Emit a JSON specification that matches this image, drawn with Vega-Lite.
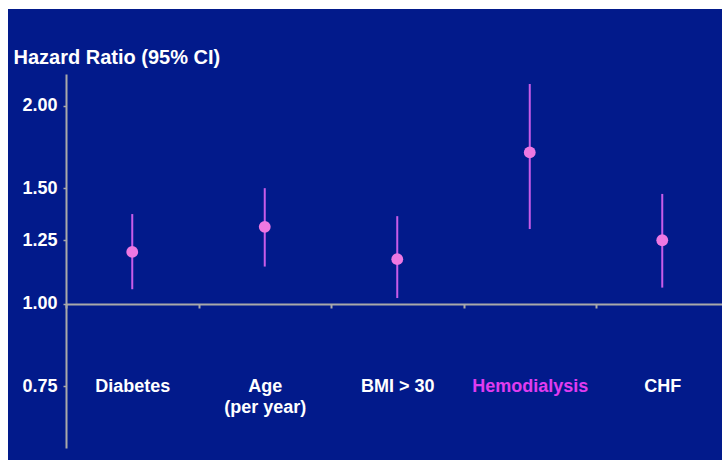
{
  "$schema": "https://vega.github.io/schema/vega-lite/v6.json",
  "width": 714,
  "height": 451,
  "autosize": {"type": "none"},
  "padding": {"left": 8, "top": 9, "right": 0, "bottom": 0},
  "background": "white",
  "config": {"view": {"fill": "#021a8b", "stroke": null}, "font": "Liberation Sans"},
  "data": {"values": [
    {"factor": "Diabetes", "hr": 1.20, "lo": 1.053, "hi": 1.37},
    {"factor": "Age (per year)", "hr": 1.31, "lo": 1.14, "hi": 1.50},
    {"factor": "BMI > 30", "hr": 1.17, "lo": 1.021, "hi": 1.36},
    {"factor": "Hemodialysis", "hr": 1.70, "lo": 1.30, "hi": 2.16},
    {"factor": "CHF", "hr": 1.25, "lo": 1.059, "hi": 1.47}
  ]},
  "encoding": {
    "x": {
      "field": "factor", "type": "nominal", "sort": null,
      "scale": {"type": "band", "range": [58, 720.5], "paddingInner": 0, "paddingOuter": 0},
      "axis": {
        "title": null, "orient": "bottom", "offset": -156,
        "domainColor": "#a9a9a9", "domainWidth": 2,
        "tickColor": "#a9a9a9", "tickWidth": 2, "tickSize": 4, "tickBand": "extent",
        "labelColor": {"condition": {"test": "datum.value == 'Hemodialysis'", "value": "#e03cf0"}, "value": "white"},
        "labelExpr": "datum.label == 'Age (per year)' ? ['Age', '(per year)'] : datum.label",
        "labelFontSize": 18, "labelFontWeight": "bold", "labelPadding": 69,
        "labelAngle": 0, "labelLineHeight": 21, "labelBaseline": "top",
        "labelOverlap": false, "labelBound": false, "labelFlush": false, "grid": false
      }
    }
  },
  "layer": [
    {
      "mark": {"type": "rule", "color": "#c95ce8", "strokeWidth": 2},
      "encoding": {
        "y": {
          "field": "lo", "type": "quantitative",
          "scale": {"type": "log", "domain": [0.604, 2.237], "range": [439, 65], "nice": false, "zero": false},
          "axis": {
            "orient": "left", "offset": -58,
            "values": [0.75, 1, 1.25, 1.5, 2], "format": ".2f",
            "domainColor": "#a9a9a9", "domainWidth": 2,
            "tickColor": "#a9a9a9", "tickWidth": 1.5, "tickSize": 3,
            "labelPadding": 6, "labelFontSize": 18, "labelFontWeight": "bold", "labelColor": "white",
            "grid": false,
            "title": "Hazard Ratio (95% CI)", "titleAngle": 0, "titleAlign": "left", "titleBaseline": "alphabetic",
            "titleX": -53, "titleY": 54, "titleFontSize": 20, "titleFontWeight": "bold", "titleColor": "white"
          }
        },
        "y2": {"field": "hi"}
      }
    },
    {
      "mark": {"type": "point", "filled": true, "size": 140, "color": "#ee78e2", "opacity": 1},
      "encoding": {
        "y": {"field": "hr", "type": "quantitative"}
      }
    }
  ]
}
